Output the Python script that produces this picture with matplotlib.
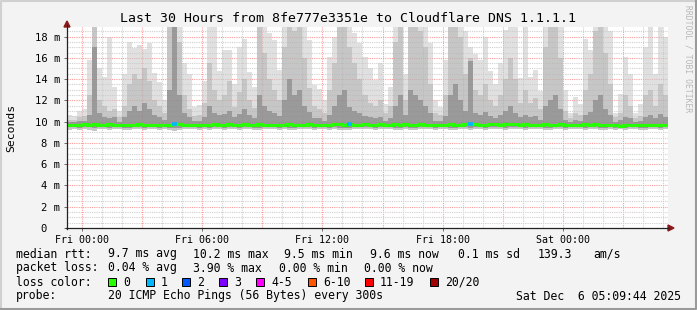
import matplotlib
matplotlib.use("Agg")
import matplotlib.pyplot as plt
import numpy as np
from matplotlib.lines import Line2D
from matplotlib.patches import Polygon, Rectangle

# --- data (15 min steps, hours from Fri 00:00) ---
t_start = -0.75
step = 0.25

smoke_max = [10.6, 10.5, 11.0, 11.2, 15.8, 19, 15.0, 14.2, 18.0, 13.3,
             11.0, 14.5, 17.5, 16.9, 17.2, 16.8, 17.4, 14.6, 13.7, 12.0,
             19, 19, 19, 15.5, 14.5, 11.4, 11.6, 13.8, 19, 19,
             14.8, 16.7, 16.7, 13.5, 17.0, 17.8, 14.7, 13.3, 19, 19,
             18.3, 17.7, 14.9, 19, 19, 19, 19, 19, 17.7, 13.4,
             13.1, 12.0, 16.1, 18.0, 19, 19, 19, 18.3, 17.4, 16.1,
             15.0, 13.9, 15.5, 11.7, 13.3, 19, 19, 14.5, 19, 19,
             19, 19, 17.4, 12.0, 11.4, 15.8, 19, 19, 19, 18.5,
             17.0, 16.4, 15.8, 18.0, 14.8, 13.5, 15.5, 18.6, 19, 19,
             14.1, 19, 14.2, 14.9, 12.9, 19, 19, 19, 19, 13.0,
             10.8, 12.3, 11.7, 17.8, 16.7, 19, 19, 19, 18.5, 10.8,
             12.6, 16.1, 14.5, 10.8, 11.7, 17.0, 19, 14.5, 19, 18.0]

smoke_mid = [10.2, 10.2, 10.4, 10.5, 12.5, 19, 12.0, 11.5, 11.0, 11.2,
             10.4, 11.5, 13.5, 14.5, 14.0, 15.0, 13.8, 12.0, 11.5, 10.8,
             19, 19, 17.5, 12.5, 11.2, 10.5, 10.6, 11.8, 15.5, 13.0,
             12.0, 12.5, 13.8, 11.4, 12.8, 14.0, 12.0, 11.3, 19, 16.5,
             14.0, 13.0, 12.0, 17.0, 19, 18.5, 19, 16.0, 13.2, 11.5,
             11.2, 10.8, 13.0, 15.5, 19, 19, 17.0, 15.5, 14.0, 12.5,
             11.8, 11.5, 12.0, 10.8, 11.5, 17.5, 19, 12.0, 19, 19,
             18.5, 17.0, 13.5, 10.8, 10.6, 12.5, 19, 19, 18.0, 14.5,
             16.0, 13.0, 12.5, 13.5, 12.0, 11.5, 12.5, 14.0, 16.0, 14.0,
             11.8, 13.0, 11.8, 12.2, 11.2, 17.0, 19, 19, 16.0, 11.0,
             10.3, 10.8, 10.6, 13.0, 14.5, 18.5, 19, 16.5, 13.5, 10.4,
             10.8, 12.5, 11.5, 10.3, 10.5, 12.5, 13.0, 11.5, 13.5, 12.5]

smoke_dark = [10.0, 10.0, 10.1, 10.1, 10.6, 17.0, 10.8, 10.4, 10.3, 10.4,
              10.0, 10.4, 11.0, 11.5, 11.0, 11.8, 11.2, 10.6, 10.4, 10.2,
              13.0, 19, 12.5, 10.8, 10.4, 10.1, 10.1, 10.4, 11.5, 10.8,
              10.6, 10.7, 11.0, 10.4, 10.7, 11.2, 10.6, 10.3, 12.5, 11.5,
              11.0, 10.8, 10.5, 12.0, 14.0, 12.5, 13.0, 11.5, 10.9, 10.3,
              10.3, 10.1, 10.6, 11.5, 12.5, 13.0, 11.4, 11.0, 10.8, 10.5,
              10.4, 10.3, 10.4, 10.1, 10.3, 11.5, 12.5, 10.6, 13.0, 12.5,
              12.0, 11.5, 10.8, 10.1, 10.1, 10.5, 12.5, 13.5, 12.0, 11.0,
              15.7, 10.8, 10.6, 10.9, 10.5, 10.3, 10.6, 11.0, 11.5, 10.8,
              10.4, 10.6, 10.4, 10.5, 10.2, 11.5, 12.0, 12.5, 11.2, 10.2,
              10.0, 10.2, 10.1, 10.6, 10.9, 12.0, 12.5, 11.2, 10.6, 10.0,
              10.2, 10.4, 10.3, 10.0, 10.1, 10.4, 10.6, 10.3, 10.7, 10.4]

smoke_low = [9.25, 9.3, 9.2, 9.3, 9.25, 9.15, 9.3, 9.3, 9.25, 9.3,
             9.3, 9.25, 9.2, 9.3, 9.3, 9.25, 9.3, 9.3, 9.2, 9.3,
             9.2, 9.1, 9.25, 9.3, 9.3, 9.3, 9.25, 9.3, 9.2, 9.3,
             9.3, 9.25, 9.3, 9.3, 9.2, 9.3, 9.3, 9.25, 9.2, 9.3,
             9.3, 9.3, 9.25, 9.3, 9.2, 9.25, 9.3, 9.3, 9.3, 9.25,
             9.3, 9.3, 9.25, 9.3, 9.2, 9.2, 9.25, 9.3, 9.3, 9.3,
             9.3, 9.25, 9.3, 9.3, 9.3, 9.2, 9.25, 9.3, 9.2, 9.25,
             9.3, 9.3, 9.3, 9.25, 9.3, 9.3, 9.2, 9.25, 9.3, 9.3,
             9.2, 9.3, 9.3, 9.25, 9.3, 9.3, 9.3, 9.25, 9.3, 9.3,
             9.3, 9.25, 9.3, 9.3, 9.3, 9.25, 9.2, 9.3, 9.3, 9.25,
             9.3, 9.3, 9.3, 9.25, 9.3, 9.3, 9.2, 9.25, 9.3, 9.2,
             9.3, 9.25, 9.3, 9.3, 9.2, 9.25, 9.3, 9.3, 9.25, 9.3]

smoke_low_dark = [9.5, 9.5, 9.45, 9.5, 9.5, 9.4, 9.5, 9.5, 9.45, 9.5,
                  9.5, 9.45, 9.45, 9.5, 9.5, 9.45, 9.5, 9.5, 9.45, 9.5,
                  9.45, 9.4, 9.45, 9.5, 9.5, 9.5, 9.45, 9.5, 9.45, 9.5,
                  9.5, 9.45, 9.5, 9.5, 9.45, 9.5, 9.5, 9.45, 9.45, 9.5,
                  9.5, 9.5, 9.45, 9.5, 9.45, 9.45, 9.5, 9.5, 9.5, 9.45,
                  9.5, 9.5, 9.45, 9.5, 9.45, 9.45, 9.45, 9.5, 9.5, 9.5,
                  9.5, 9.45, 9.5, 9.5, 9.5, 9.45, 9.45, 9.5, 9.45, 9.45,
                  9.5, 9.5, 9.5, 9.45, 9.5, 9.5, 9.45, 9.45, 9.5, 9.5,
                  9.45, 9.5, 9.5, 9.45, 9.5, 9.5, 9.5, 9.45, 9.5, 9.5,
                  9.5, 9.45, 9.5, 9.5, 9.5, 9.45, 9.45, 9.5, 9.5, 9.45,
                  9.5, 9.5, 9.5, 9.45, 9.5, 9.5, 9.45, 9.45, 9.5, 9.45,
                  9.5, 9.45, 9.5, 9.5, 9.4, 9.45, 9.5, 9.5, 9.45, 9.5]

median = [9.65, 9.7, 9.7, 9.75, 9.7, 9.75, 9.7, 9.7, 9.75, 9.7,
          9.7, 9.65, 9.7, 9.7, 9.75, 9.7, 9.7, 9.65, 9.7, 9.7,
          9.7, 9.8, 9.75, 9.7, 9.7, 9.65, 9.65, 9.7, 9.7, 9.75,
          9.7, 9.7, 9.75, 9.7, 9.7, 9.75, 9.7, 9.7, 9.75, 9.7,
          9.7, 9.7, 9.65, 9.7, 9.75, 9.7, 9.7, 9.7, 9.75, 9.7,
          9.7, 9.7, 9.7, 9.75, 9.75, 9.7, 9.8, 9.7, 9.7, 9.75,
          9.7, 9.7, 9.75, 9.7, 9.7, 9.75, 9.7, 9.75, 9.7, 9.7,
          9.75, 9.7, 9.7, 9.7, 9.65, 9.7, 9.75, 9.7, 9.7, 9.75,
          9.8, 9.75, 9.7, 9.7, 9.75, 9.75, 9.7, 9.75, 9.8, 9.75,
          9.7, 9.75, 9.7, 9.7, 9.7, 9.75, 9.7, 9.7, 9.75, 9.7,
          9.7, 9.7, 9.7, 9.75, 9.7, 9.75, 9.7, 9.7, 9.7, 9.65,
          9.6, 9.65, 9.7, 9.65, 9.7, 9.65, 9.7, 9.65, 9.65, 9.7]

loss = [0] * 120
loss[21] = 1
loss[56] = 1
loss[80] = 1

loss_labels = ["0", "1", "2", "3", "4-5", "6-10", "11-19", "20/20"]
loss_colors = ["#26ff00", "#00b8ff", "#0059ff", "#7e00ff",
               "#ff00ff", "#ff5500", "#ff0000", "#a10000"]

x_tick_hours = [0, 6, 12, 18, 24]
x_tick_labels = ["Fri 00:00", "Fri 06:00", "Fri 12:00", "Fri 18:00", "Sat 00:00"]
y_ticks = [0, 2, 4, 6, 8, 10, 12, 14, 16, 18]

title = "Last 30 Hours from 8fe777e3351e to Cloudflare DNS 1.1.1.1"

W, H = 697, 310
BG = "#f3f3f3"
MONO = "DejaVu Sans Mono"
plt.rcParams["font.family"] = MONO

fig = plt.figure(figsize=(W / 100, H / 100), dpi=100, facecolor=BG)


def fx(px):
    return px / W


def fy(py):
    return 1 - py / H


ax = fig.add_axes([fx(67), fy(228), fx(668) - fx(67), fy(27) - fy(228)])
ax.set_facecolor("white")
ax.set_xlim(-0.75, 29.25)
ax.set_ylim(0, 18.9)

n = len(smoke_max)
edges = t_start + step * np.arange(n + 1)


def ext(a):
    a = np.asarray(a, dtype=float)
    return np.append(a, a[-1])


# grid first
for h in np.arange(0, 30, 1):
    c = "#ff9a9a" if h % 3 == 0 else "#cfcfcf"
    ax.axvline(h, color=c, lw=0.8, ls=(0, (1, 1)), zorder=1)
for v in np.arange(0.5, 19, 0.5):
    c = "#ff9a9a" if v % 2 == 0 else "#cfcfcf"
    ax.axhline(v, color=c, lw=0.8, ls=(0, (1, 1)), zorder=1)

# smoke (semi-transparent so the grid shows through like the original)
ax.fill_between(edges, ext(smoke_low), ext(smoke_max), step="post",
                color="#c8c8c8", lw=0, zorder=2, alpha=0.55)
ax.fill_between(edges, ext(smoke_low), ext(smoke_mid), step="post",
                color="#a8a8a8", lw=0, zorder=3, alpha=0.45)
ax.fill_between(edges, ext(smoke_low_dark), ext(smoke_dark), step="post",
                color="#707070", lw=0, zorder=4, alpha=0.5)

# median line coloured by loss
ax.step(edges, ext(median), where="post", color=loss_colors[0], lw=2.2,
        zorder=6, solid_joinstyle="miter")
for i, l in enumerate(loss):
    if l > 0:
        ax.hlines(median[i], edges[i], edges[i + 1], color=loss_colors[l],
                  lw=2.6, zorder=7)

ax.set_xticks(x_tick_hours)
ax.set_xticklabels(x_tick_labels, fontsize=7.2)
ax.set_yticks(y_ticks)
ax.set_yticklabels(["0  "] + ["%d m" % v for v in y_ticks[1:]], fontsize=7.6)
ax.tick_params(axis="both", length=2, width=0.6, color="#555555", pad=3)
for s in ax.spines.values():
    s.set_visible(False)

# axis lines with arrows
fig.add_artist(Line2D([fx(67), fx(67)], [fy(229), fy(25)], color="#222222", lw=0.9))
fig.add_artist(Line2D([fx(66), fx(669)], [fy(228), fy(228)], color="#222222", lw=0.9))
fig.add_artist(Polygon([[fx(64), fy(27)], [fx(70), fy(27)], [fx(67), fy(21)]],
                       closed=True, color="#8b1a1a", transform=fig.transFigure))
fig.add_artist(Polygon([[fx(668), fy(225)], [fx(668), fy(231)], [fx(674), fy(228)]],
                       closed=True, color="#8b1a1a", transform=fig.transFigure))

# title, axis label, watermark
fig.text(fx(348), fy(19), title, ha="center", va="center", fontsize=9.5)
fig.text(fx(11), fy(128), "Seconds", ha="center", va="center",
         rotation=90, fontsize=8.2)
fig.text(fx(688), fy(5), "RRDTOOL / TOBI OETIKER", ha="center", va="top",
         rotation=270, fontsize=5.8, color="#b8b8b8")

# legend text rows
fs = 8.3
rows = [254, 268, 282, 296]
fig.text(fx(16), fy(rows[0]), "median rtt:", va="center", fontsize=fs)
for xp, s in [(108, "9.7 ms avg"), (193, "10.2 ms max"), (284, "9.5 ms min"),
              (370, "9.6 ms now"), (458, "0.1 ms sd"), (538, "139.3"),
              (593, "am/s")]:
    fig.text(fx(xp), fy(rows[0]), s, va="center", fontsize=fs)

fig.text(fx(16), fy(rows[1]), "packet loss:", va="center", fontsize=fs)
for xp, s in [(108, "0.04 % avg"), (193, "3.90 % max"), (279, "0.00 % min"),
              (364, "0.00 % now")]:
    fig.text(fx(xp), fy(rows[1]), s, va="center", fontsize=fs)

fig.text(fx(16), fy(rows[2]), "loss color:", va="center", fontsize=fs)
sw_x = [108, 146, 182, 219, 256, 308, 365, 430]
for xp, lab, col in zip(sw_x, loss_labels, loss_colors):
    fig.add_artist(Rectangle((fx(xp), fy(rows[2] + 4)), fx(8), 8 / H,
                             facecolor=col, edgecolor="black", lw=0.7,
                             transform=fig.transFigure))
    fig.text(fx(xp + 15), fy(rows[2]), lab, va="center", fontsize=fs)

fig.text(fx(16), fy(rows[3]), "probe:", va="center", fontsize=fs)
fig.text(fx(108), fy(rows[3]), "20 ICMP Echo Pings (56 Bytes) every 300s",
         va="center", fontsize=fs)
fig.text(fx(681), fy(rows[3]), "Sat Dec  6 05:09:44 2025", ha="right",
         va="center", fontsize=fs)

# image frame
fig.add_artist(Line2D([fx(1), fx(1), fx(696)], [fy(309), fy(1), fy(1)],
                      color="#d0d0d0", lw=1.5))
fig.add_artist(Line2D([fx(1), fx(696), fx(696)], [fy(309), fy(309), fy(1)],
                      color="#9a9a9a", lw=1.5))

fig.savefig("out.png", dpi=100, facecolor=BG)
